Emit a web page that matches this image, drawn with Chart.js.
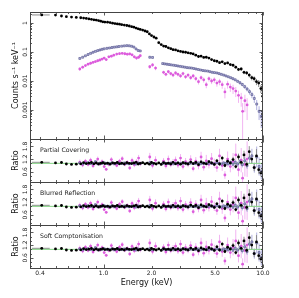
<!DOCTYPE html>
<html><head><meta charset="utf-8">
<script src="https://cdn.jsdelivr.net/npm/chart.js@4.4.0/dist/chart.umd.min.js"></script>
<style>
html,body{margin:0;padding:0;background:#fff;}
body{width:299px;height:298px;overflow:hidden;position:relative;}
canvas{position:absolute;left:0;top:0;}
</style></head>
<body>
<canvas id="c0" width="299" height="298"></canvas>
<canvas id="c1" width="299" height="298"></canvas>
<canvas id="c2" width="299" height="298"></canvas>
<canvas id="c3" width="299" height="298"></canvas>
<script>
// ---------------- data ----------------
const blackE = [0.41,0.50,0.545,0.585,0.63,0.675,0.72,0.75,0.78,0.81,
 0.84,0.87,0.90,0.93,0.96,0.99,1.02,1.06,1.10,1.14,
 1.18,1.22,1.26,1.30,1.35,1.40,1.45,1.50,1.55,1.60,
 1.65,1.70,1.76,1.82,1.88,1.94,2.00,2.07,2.14,2.22,
 2.30,2.38,2.46,2.55,2.64,2.73,2.83,2.93,3.04,3.15,
 3.27,3.39,3.52,3.65,3.79,3.94,4.09,4.25,4.41,4.58,
 4.76,4.95,5.14,5.34,5.55,5.77,6.0,6.24,6.49,6.75,
 7.02,7.3,7.6,7.9,8.2,8.5,8.8,9.1,9.4,9.7,
 9.95];
const blackFlux = [1.9,1.88,1.75,1.66,1.6,1.56,1.52,1.48,1.44,1.39,
 1.34,1.29,1.26,1.21,1.16,1.10,1.08,1.07,1.04,0.99,
 0.96,0.93,0.91,0.88,0.85,0.82,0.79,0.75,0.72,0.67,
 0.63,0.60,0.57,0.53,0.50,0.42,0.37,0.33,0.30,0.21,
 0.18,0.16,0.155,0.14,0.13,0.12,0.118,0.11,0.105,0.10,
 0.098,0.094,0.09,0.086,0.078,0.07,0.072,0.065,0.066,0.062,
 0.055,0.05,0.048,0.043,0.046,0.04,0.042,0.037,0.035,0.03,
 0.025,0.026,0.02,0.019,0.016,0.013,0.012,0.0095,0.0085,0.0055,
 0.003];
const blackErr = [0.04,0.03,0.03,0.03,0.03,0.03,0.03,0.03,0.03,0.03,
 0.03,0.03,0.03,0.03,0.03,0.03,0.03,0.03,0.03,0.03,
 0.03,0.03,0.03,0.03,0.03,0.03,0.03,0.03,0.03,0.03,
 0.03,0.03,0.03,0.03,0.03,0.04,0.04,0.04,0.04,0.04,
 0.04,0.04,0.04,0.04,0.04,0.04,0.04,0.04,0.05,0.05,
 0.05,0.05,0.05,0.05,0.06,0.06,0.06,0.06,0.06,0.07,
 0.07,0.07,0.08,0.08,0.08,0.09,0.09,0.1,0.1,0.11,
 0.12,0.13,0.14,0.15,0.17,0.19,0.21,0.24,0.27,0.3,
 0.35];
const blackRatio = [1.05,1.02,1.04,0.97,0.95,0.96,0.98,1.03,0.99,1.01,
 1.04,0.98,1.02,0.97,1.0,1.03,0.99,1.01,0.96,1.02,
 1.0,1.04,0.98,1.01,0.97,1.03,1.0,0.99,1.02,1.05,
 0.97,1.0,1.03,0.98,1.01,0.96,1.04,1.0,0.97,1.02,
 0.95,1.03,0.99,1.01,0.97,1.05,0.98,1.02,0.96,1.03,
 1.0,0.97,1.06,0.99,1.04,0.94,1.07,1.01,0.98,1.08,
 1.02,0.95,1.12,0.97,1.25,0.9,1.1,1.02,1.18,0.85,
 1.3,1.05,1.4,0.95,1.55,1.2,0.8,1.35,0.7,0.55,
 0.6];
const blackXLo = [0.356];
const blackXHi = [0.46];

const blueE = [0.71,0.74,0.77,0.80,0.83,0.86,0.89,0.92,0.95,0.98,
 1.01,1.05,1.09,1.13,1.17,1.21,1.25,1.30,1.35,1.40,
 1.45,1.50,1.55,1.60,1.65,1.70,
 1.95,2.03,
 2.35,2.42,2.50,2.58,2.66,2.75,2.84,2.93,3.03,3.13,
 3.23,3.34,3.45,3.56,3.68,3.80,3.93,4.06,4.20,4.34,
 4.49,4.64,4.80,4.96,5.13,5.30,5.48,5.67,5.86,6.06,
 6.27,6.48,6.70,6.93,7.17,7.42,7.68,7.95,8.23,8.52,
 8.82,9.13,9.45,9.75];
const blueFlux = [0.060,0.066,0.074,0.082,0.090,0.098,0.105,0.112,0.118,0.124,
 0.129,0.134,0.138,0.143,0.147,0.151,0.155,0.159,0.163,0.166,
 0.164,0.158,0.148,0.128,0.113,0.109,
 0.066,0.065,
 0.040,0.039,0.038,0.037,0.036,0.035,0.034,0.033,0.032,0.031,
 0.030,0.029,0.0285,0.028,0.027,0.026,0.025,0.024,0.023,0.0225,
 0.022,0.021,0.020,0.0195,0.019,0.018,0.017,0.016,0.015,0.014,
 0.013,0.012,0.011,0.0098,0.0087,0.0076,0.0064,0.0053,0.0043,0.0034,
 0.0025,0.0016,0.0009,0.0006];
const blueErr = [0.05,0.05,0.04,0.04,0.04,0.04,0.04,0.04,0.04,0.04,
 0.04,0.04,0.04,0.04,0.04,0.04,0.04,0.04,0.04,0.04,
 0.04,0.04,0.04,0.05,0.05,0.05,
 0.07,0.07,
 0.04,0.04,0.04,0.04,0.04,0.04,0.04,0.04,0.04,0.04,
 0.04,0.04,0.04,0.04,0.04,0.05,0.05,0.05,0.05,0.05,
 0.05,0.05,0.05,0.06,0.06,0.06,0.06,0.07,0.07,0.08,
 0.08,0.09,0.1,0.11,0.12,0.14,0.16,0.18,0.21,0.25,
 0.3,0.38,0.5,0.6];
const blueRatio = [1.02,0.98,1.01,1.03,0.99,1.0,1.08,0.98,1.01,1.0,
 1.03,0.99,1.0,1.02,0.98,1.01,1.0,0.99,1.02,1.0,
 0.98,1.01,1.0,0.97,1.02,1.0,
 1.03,0.98,
 1.0,1.01,0.99,1.0,1.02,0.98,1.0,1.01,0.99,1.0,
 1.02,0.98,1.0,1.01,0.99,1.0,1.02,0.98,1.01,1.0,
 0.99,1.02,1.0,0.98,1.03,1.0,0.97,1.02,1.0,0.98,
 1.04,0.96,1.05,0.97,1.08,0.94,1.12,0.9,1.25,1.35,
 0.8,1.3,0.85,0.6];

const magE = [0.71,0.74,0.77,0.80,0.83,0.86,0.89,0.92,0.95,0.98,
 1.01,1.04,1.08,1.12,1.16,1.21,1.26,1.31,1.36,1.41,
 1.46,1.51,1.56,1.61,1.66,1.70,
 1.95,2.03,2.12,
 2.38,2.46,2.55,2.64,2.73,2.83,2.93,3.04,3.15,3.27,
 3.39,3.52,3.65,3.79,3.94,4.09,4.25,4.41,4.58,4.76,
 4.95,5.14,5.34,5.55,5.77,6.0,6.24,6.49,6.75,7.02,
 7.3,7.45,7.7,7.95];
const magFlux = [0.026,0.030,0.034,0.038,0.041,0.044,0.047,0.050,0.053,0.057,
 0.062,0.055,0.068,0.072,0.078,0.085,0.088,0.090,0.087,0.084,
 0.086,0.080,0.068,0.062,0.066,0.075,
 0.031,0.036,0.028,
 0.020,0.017,0.021,0.018,0.016,0.019,0.017,0.015,0.018,0.014,
 0.016,0.013,0.015,0.012,0.0095,0.013,0.011,0.0075,0.012,0.010,
 0.011,0.0085,0.0095,0.0075,0.0042,0.0078,0.0062,0.0055,0.0045,0.0032,
 0.0026,0.0009,0.0021,0.0015];
const magErr = [0.12,0.11,0.1,0.1,0.1,0.1,0.1,0.1,0.1,0.1,
 0.1,0.1,0.1,0.1,0.1,0.1,0.1,0.1,0.1,0.1,
 0.1,0.11,0.12,0.12,0.12,0.12,
 0.15,0.15,0.16,
 0.14,0.14,0.14,0.14,0.15,0.15,0.15,0.15,0.16,0.16,
 0.16,0.17,0.17,0.18,0.2,0.19,0.2,0.25,0.2,0.22,
 0.22,0.25,0.25,0.28,0.4,0.3,0.32,0.35,0.38,0.45,
 0.5,0.92,0.6,0.7];
const magRatio = [1.05,0.92,1.1,0.95,1.15,0.88,1.02,1.2,0.97,1.08,
 0.85,0.72,0.95,1.18,1.0,0.9,1.1,1.22,0.96,1.05,
 0.78,1.14,0.93,1.07,1.25,0.98,
 1.3,0.9,1.15,
 1.1,0.88,1.2,0.95,1.05,1.15,0.92,1.25,0.85,1.08,
 0.97,1.18,0.75,1.1,0.9,1.3,0.82,1.12,0.95,1.22,
 1.0,0.8,1.35,0.9,0.45,1.2,0.85,1.1,1.4,0.7,
 1.15,0.3,0.95,1.2];

const modelE = [0.346, 10];
const modelRatio = [1, 1];

const panelTitles = ['Partial Covering', 'Blurred Reflection', 'Soft Comptonisation'];
const xTickValues = [0.4, 1, 2, 5, 10];
const xTickLabels = ['0.4', '1.0', '2.0', '5.0', '10.0'];
const mainYTickValues = [1, 0.1, 0.01, 0.001];
const mainYTickLabels = ['1', '0.1', '0.01', '0.001'];
const ratioYTickValues = [0.6, 1.2, 1.8];
const ratioYTickLabels = ['0.6', '1.2', '1.8'];

// ---------------- helpers ----------------
const FONT = "'DejaVu Sans', sans-serif";
const LEFT = 30, RIGHT = 263, W = 299, H = 298;
const XMIN = 0.346, XMAX = 10;

function pts(E, V) { return E.map((e, i) => ({x: e, y: V[i]})); }
function errBars(E, V, err) {
  const out = [];
  E.forEach((e, i) => {
    out.push({x: e, y: V[i] * (1 - err[i])}, {x: e, y: V[i] * (1 + err[i])}, {x: e, y: null});
  });
  return out;
}
function xErrBars(lo, hi, E, V) {
  const out = [];
  lo.forEach((l, i) => { out.push({x: l, y: V[i]}, {x: hi[i], y: V[i]}, {x: E[i], y: null}); });
  return out;
}

const xMinor = [0.4,0.5,0.6,0.7,0.8,0.9,2,3,4,5,6,7,8,9];
const xMajor = [1, 10];

function line(ctx, x1, y1, x2, y2) { ctx.beginPath(); ctx.moveTo(x1, y1); ctx.lineTo(x2, y2); ctx.stroke(); }

function framePlugin(kind, title, showX) {
  return {
    id: 'frame',
    afterDraw(chart) {
      const {ctx, chartArea: a, scales: {x, y}} = chart;
      ctx.save();
      ctx.strokeStyle = '#333';
      ctx.lineWidth = 0.8;
      const drawX = (v, len) => {
        const px = Math.round(x.getPixelForValue(v)) + 0.5;
        line(ctx, px, a.bottom, px, a.bottom - len);
        line(ctx, px, a.top, px, a.top + len);
      };
      xMinor.forEach(v => drawX(v, 2));
      xMajor.forEach(v => drawX(v, 3.5));
      const drawY = (v, len) => {
        const py = Math.round(y.getPixelForValue(v)) + 0.5;
        if (py < a.top - 0.1 || py > a.bottom + 0.6) return;
        line(ctx, a.left, py, a.left + len, py);
        line(ctx, a.right, py, a.right - len, py);
      };
      if (kind === 'main') {
        for (let d = -4; d <= 0; d++) {
          drawY(Math.pow(10, d), 3.5);
          for (let m = 2; m <= 9; m++) drawY(m * Math.pow(10, d), 2);
        }
      } else {
        [0.2,0.4,0.8,1.0,1.4,1.6,2.0].forEach(v => drawY(v, 2));
        ratioYTickValues.forEach(v => drawY(v, 3.5));
      }
      ctx.strokeStyle = '#444';
      ctx.lineWidth = 1;
      ctx.strokeRect(a.left + 0.5, a.top + 0.5, a.right - a.left - 1, a.bottom - a.top);
      ctx.fillStyle = '#222';
      ctx.font = '6px ' + FONT;
      ctx.textAlign = 'center';
      ctx.textBaseline = 'alphabetic';
      const vals = kind === 'main' ? mainYTickValues : ratioYTickValues;
      const labs = kind === 'main' ? mainYTickLabels : ratioYTickLabels;
      vals.forEach((v, i) => {
        const py = y.getPixelForValue(v);
        ctx.save(); ctx.translate(26.5, py); ctx.rotate(-Math.PI / 2);
        ctx.fillText(labs[i], 0, 0); ctx.restore();
      });
      ctx.font = '8px ' + FONT;
      ctx.fillStyle = '#111';
      ctx.save();
      ctx.translate(17.5, (a.top + a.bottom) / 2);
      ctx.rotate(-Math.PI / 2);
      ctx.textBaseline = 'alphabetic';
      ctx.fillText(kind === 'main' ? 'Counts s\u207B\u00B9 keV\u207B\u00B9' : 'Ratio', 0, 0);
      ctx.restore();
      if (title) {
        ctx.font = '6.2px ' + FONT;
        ctx.fillStyle = '#222';
        ctx.textAlign = 'left';
        ctx.textBaseline = 'middle';
        ctx.fillText(title, 40, a.top + 11);
      }
      if (showX) {
        ctx.font = '6px ' + FONT;
        ctx.fillStyle = '#222';
        ctx.textAlign = 'center';
        ctx.textBaseline = 'top';
        xTickValues.forEach((v, i) => ctx.fillText(xTickLabels[i], x.getPixelForValue(v), a.bottom + 2));
        ctx.font = '8px ' + FONT;
        ctx.fillStyle = '#111';
        ctx.textBaseline = 'middle';
        ctx.fillText('Energy (keV)', (a.left + a.right) / 2, a.bottom + 15);
      }
      ctx.restore();
    }
  };
}

function makeChart(id, kind, top, bottom, title, showX) {
  const isMain = kind === 'main';
  const bY = isMain ? blackFlux : blackRatio;
  const uY = isMain ? blueFlux : blueRatio;
  const mY = isMain ? magFlux : magRatio;
  const datasets = [
    {label: 'black err', data: errBars(blackE, bY, blackErr), showLine: true, pointRadius: 0, borderColor: '#8a8a8a', borderWidth: 1, spanGaps: false, order: 10},
    {label: 'black xerr', data: xErrBars(blackXLo, blackXHi, blackE, bY), showLine: true, pointRadius: 0, borderColor: '#8a8a8a', borderWidth: 1, spanGaps: false, order: 10},
    {label: 'blue err', data: errBars(blueE, uY, blueErr), showLine: true, pointRadius: 0, borderColor: '#b0b0e0', borderWidth: 1, spanGaps: false, order: 11},
    {label: 'magenta err', data: errBars(magE, mY, magErr), showLine: true, pointRadius: 0, borderColor: '#f2b4f2', borderWidth: 1, spanGaps: false, order: 12},
    {label: 'magenta', data: pts(magE, mY), pointStyle: 'circle', pointRadius: 1.4, backgroundColor: '#dc5cdc', borderColor: '#dc5cdc', borderWidth: 0, order: 3},
    {label: 'blue', data: pts(blueE, uY), pointStyle: 'rect', pointRadius: 1.35, backgroundColor: '#b6b6dc', borderColor: '#4c4c86', borderWidth: 0.6, order: 2},
    {label: 'black', data: pts(blackE, bY), pointStyle: 'circle', pointRadius: 1.4, backgroundColor: '#000', borderColor: '#000', borderWidth: 0, order: 1},
  ];
  if (!isMain) {
    datasets.push({label: 'model', data: pts(modelE, modelRatio), showLine: true, pointRadius: 0, borderColor: '#86d486', borderWidth: 1, order: 9});
  }
  return new Chart(document.getElementById(id), {
    type: 'scatter',
    data: {datasets},
    options: {
      responsive: false, animation: false, devicePixelRatio: 1, events: [],
      layout: {padding: {left: LEFT, right: W - RIGHT, top: top, bottom: H - bottom}},
      plugins: {legend: {display: false}, tooltip: {enabled: false}},
      scales: {
        x: {type: 'logarithmic', min: XMIN, max: XMAX, display: false, bounds: 'data'},
        y: isMain ? {type: 'logarithmic', min: 1e-4, max: 2.4, display: false, bounds: 'data'}
                  : {type: 'linear', min: 0.12, max: 2.15, display: false, bounds: 'data'}
      }
    },
    plugins: [framePlugin(kind, title, showX)]
  });
}

makeChart('c0', 'main', 12, 139, null, false);
makeChart('c1', 'ratio', 139, 182, panelTitles[0], false);
makeChart('c2', 'ratio', 182, 225, panelTitles[1], false);
makeChart('c3', 'ratio', 225, 268, panelTitles[2], true);
</script>
</body></html>
